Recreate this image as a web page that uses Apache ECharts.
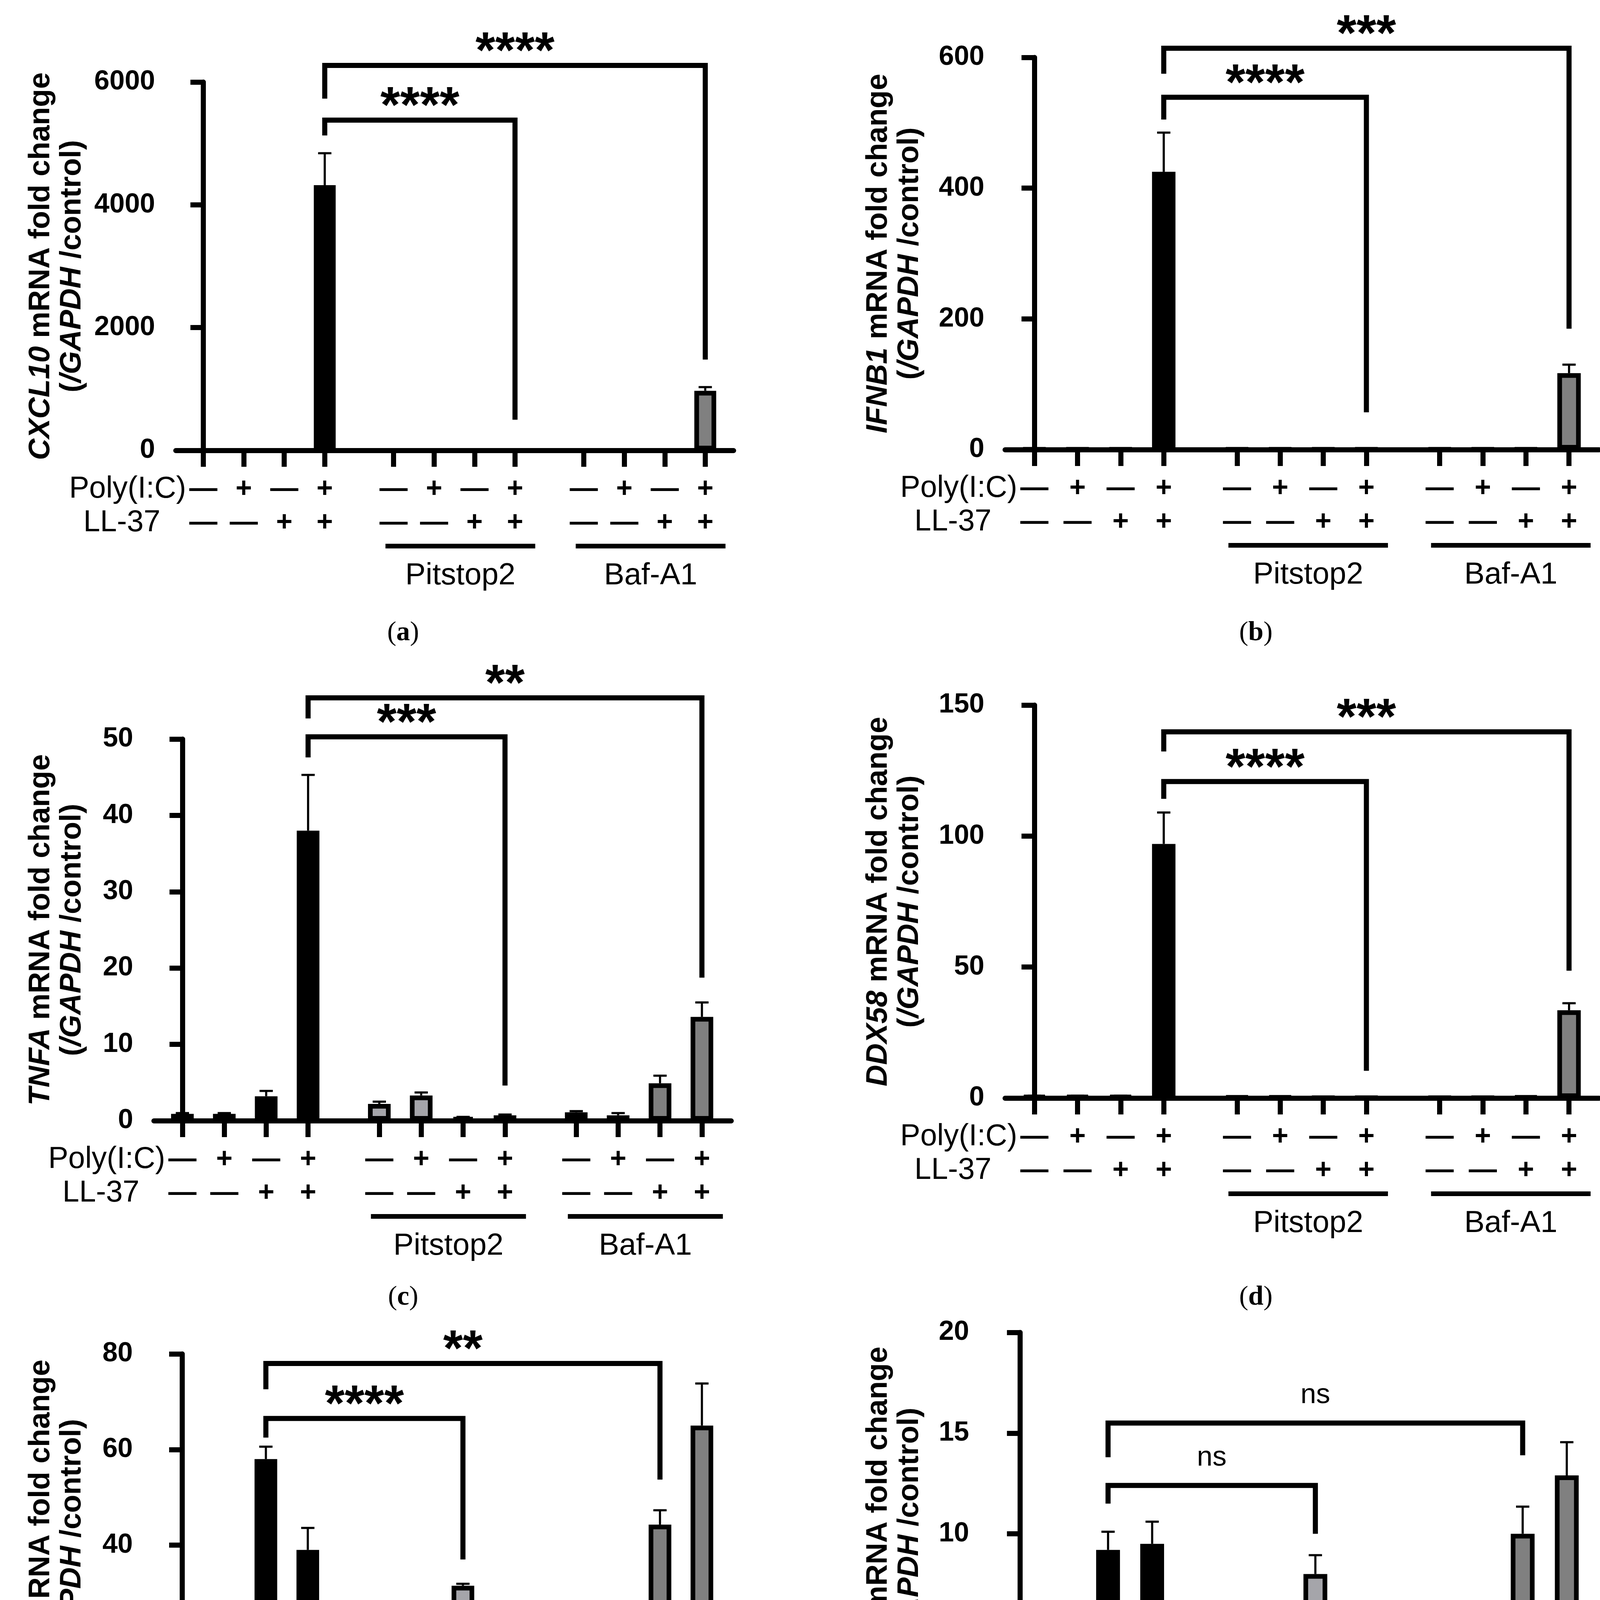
<!DOCTYPE html>
<html lang="en">
<head>
  <meta charset="UTF-8">
  <script src="https://cdn.jsdelivr.net/npm/echarts@6/dist/echarts.min.js"></script>
  <style>
    html, body { margin: 0; padding: 0; background: #fff; }
    #container { width: 4128px; height: 4958px; }
  </style>
</head>
<body>
  <div id="container"></div>
  <script>
    // treatment rows under each bar
    var polyIC = ['—', '+', '—', '+', '—', '+', '—', '+', '—', '+', '—', '+'];
    var ll37 = ['—', '—', '+', '+', '—', '—', '+', '+', '—', '—', '+', '+'];
    var groupLabels = ['Pitstop2', 'Baf-A1'];
    var panelLetters = ['a', 'b', 'c', 'd', 'e', 'f'];
    var genes = ['CXCL10', 'IFNB1', 'TNFA', 'DDX58', 'PTGS2', 'VEGFA'];

    // mean and SEM
    var cxcl10Mean = [1, 1, 1, 4320, 1, 1, 1, 1, 1, 1, 1, 970];
    var cxcl10Err = [0, 0, 0, 520, 0, 0, 0, 0, 0, 0, 0, 60];
    var ifnb1Mean = [1, 1, 1, 425, 1, 1, 1, 1, 1, 1, 1, 117];
    var ifnb1Err = [0, 0, 0, 60, 0, 0, 0, 0, 0, 0, 0, 13];
    var tnfaMean = [0.9, 0.9, 3.2, 38, 2.2, 3.3, 0.4, 0.7, 1.1, 0.7, 4.9, 13.6];
    var tnfaErr = [0.1, 0.1, 0.7, 7.3, 0.3, 0.4, 0.1, 0.1, 0.15, 0.3, 1.0, 1.9];
    var ddx58Mean = [0.8, 0.8, 0.8, 97, 0.5, 0.5, 0.2, 0.2, 0.2, 0.2, 0.5, 33.5];
    var ddx58Err = [0.1, 0.1, 0.1, 12, 0.1, 0.1, 0, 0, 0, 0, 0.1, 2.7];
    var ptgs2Mean = [0.6, 0.45, 58, 39, 2.9, 3.5, 31.5, 26.4, 1.1, 0.8, 44.3, 65];
    var ptgs2Err = [0.1, 0.1, 2.6, 4.6, 0.3, 0.2, 0.4, 1.8, 0.1, 0.1, 3.0, 8.8];
    var vegfaMean = [0.92, 0.82, 9.2, 9.5, 1.48, 1.78, 8.0, 6.15, 1.29, 1.29, 10, 12.9];
    var vegfaErr = [0.05, 0.05, 0.9, 1.1, 0.12, 0.17, 0.94, 0.37, 0.11, 0.06, 1.35, 1.65];

    // y axis ticks
    var cxcl10Ticks = [0, 2000, 4000, 6000];
    var ifnb1Ticks = [0, 200, 400, 600];
    var tnfaTicks = [0, 10, 20, 30, 40, 50];
    var ddx58Ticks = [0, 50, 100, 150];
    var ptgs2Ticks = [0, 20, 40, 60, 80];
    var vegfaTicks = [0, 5, 10, 15, 20];

    // brackets: [from bar, to bar, top, left foot, right foot, label]
    var cxcl10Sig = [[3, 7, 5380, 5130, 500, '****'], [3, 11, 6270, 5730, 1480, '****']];
    var ifnb1Sig = [[3, 7, 539, 505, 57, '****'], [3, 11, 614, 575, 185, '***']];
    var tnfaSig = [[3, 7, 50.3, 47.6, 4.6, '***'], [3, 11, 55.4, 52.7, 18.75, '**']];
    var ddx58Sig = [[3, 7, 120.8, 114.2, 10.4, '****'], [3, 11, 139.8, 132.3, 48.6, '***']];
    var ptgs2Sig = [[2, 6, 66.5, 62.5, 37, '****'], [2, 10, 78, 72.6, 53.7, '**']];
    var vegfaSig = [[2, 6, 12.4, 11.5, 10.0, 'ns'], [2, 10, 15.5, 13.8, 13.9, 'ns']];

    var means = [cxcl10Mean, ifnb1Mean, tnfaMean, ddx58Mean, ptgs2Mean, vegfaMean];
    var errs = [cxcl10Err, ifnb1Err, tnfaErr, ddx58Err, ptgs2Err, vegfaErr];
    var ticks = [cxcl10Ticks, ifnb1Ticks, tnfaTicks, ddx58Ticks, ptgs2Ticks, vegfaTicks];
    var sigs = [cxcl10Sig, ifnb1Sig, tnfaSig, ddx58Sig, ptgs2Sig, vegfaSig];

    // page layout of the six panels (pixels)
    var layout = [
      { left: 450, right: 1878, top: 210, bottom: 1153, nameGap: 225, lx: 1032, ly: 1621 },
      { left: 2573, right: 4094, top: 147, bottom: 1151, nameGap: 204, lx: 3215, ly: 1621 },
      { left: 394, right: 1872, top: 1892, bottom: 2869, nameGap: 169, lx: 1032, ly: 3322 },
      { left: 2573, right: 4094, top: 1805, bottom: 2811, nameGap: 204, lx: 3215, ly: 3322 },
      { left: 393, right: 1872, top: 3466, bottom: 4445, nameGap: 168, lx: 1032, ly: 4907 },
      { left: 2534, right: 4090, top: 3411, bottom: 4442, nameGap: 165, lx: 3212, ly: 4901 }
    ];

    var FONT = '"Liberation Sans", Arial, sans-serif';
    var SERIF = '"Liberation Serif", "Times New Roman", serif';
    var fills = ['#000000', '#a5a5aa', '#808080'];
    var LW = 13;
    var GAP = 0.7, XMIN = -0.68, XMAX = 13.1;
    var pos = polyIC.map(function (_, i) { return i + GAP * Math.floor(i / 4); });

    function idxOf(v) {
      for (var i = 0; i < pos.length; i++) {
        if (Math.abs(pos[i] - v) < 1e-6) return i;
      }
      return -1;
    }

    var grids = [], xAxes = [], yAxes = [], series = [], graphics = [];

    layout.forEach(function (L, gi) {
      var w = L.right - L.left;
      var step = w / (XMAX - XMIN);
      var tk = ticks[gi];
      grids.push({ left: L.left, top: L.top, width: w, height: L.bottom - L.top, containLabel: false, outerBoundsMode: 'none' });

      xAxes.push({
        gridIndex: gi, type: 'value', min: XMIN, max: XMAX,
        splitLine: { show: false },
        axisLine: { show: true, onZero: false, lineStyle: { color: '#000', width: LW } },
        axisTick: { show: true, customValues: pos, length: 42, lineStyle: { color: '#000', width: LW } },
        axisLabel: {
          show: true, customValues: pos, margin: 57, hideOverlap: false,
          formatter: function (v) {
            var i = idxOf(v);
            if (i < 0) return '';
            return '{s|' + polyIC[i] + '}\n{s|' + ll37[i] + '}';
          },
          rich: { s: { fontFamily: FONT, fontSize: 72, fontWeight: 'bold', lineHeight: 86, color: '#000' } }
        }
      });

      yAxes.push({
        gridIndex: gi, type: 'value', min: tk[0], max: tk[tk.length - 1], interval: tk[1] - tk[0],
        splitLine: { show: false },
        axisLine: { show: true, lineStyle: { color: '#000', width: LW } },
        axisTick: { show: true, length: 33, lineStyle: { color: '#000', width: LW } },
        axisLabel: {
          margin: 53, fontFamily: FONT, fontSize: 70, fontWeight: 'bold', color: '#000',
          formatter: function (v) { return String(v); }
        },
        name: '{i|' + genes[gi] + '} mRNA fold change\n({i|/GAPDH} /control)',
        nameLocation: 'middle', nameRotate: 90, nameGap: L.nameGap, nameMoveOverlap: false,
        nameTextStyle: {
          fontFamily: FONT, fontSize: 76, fontWeight: 'bold', color: '#000', lineHeight: 80,
          rich: { i: { fontFamily: FONT, fontSize: 76, fontWeight: 'bold', fontStyle: 'italic', color: '#000', lineHeight: 80 } }
        }
      });

      // bars
      series.push({
        type: 'bar', xAxisIndex: gi, yAxisIndex: gi, silent: true,
        barWidth: Math.round(step * 0.54),
        itemStyle: { borderColor: '#000', borderWidth: 12 },
        data: means[gi].map(function (v, i) {
          return { value: [pos[i], v], itemStyle: { color: fills[Math.floor(i / 4)] } };
        })
      });

      // error bars (upper half)
      series.push({
        type: 'custom', xAxisIndex: gi, yAxisIndex: gi, silent: true, z: 3,
        data: means[gi].map(function (v, i) { return [pos[i], v, errs[gi][i]]; }),
        encode: { x: 0, y: 1 },
        renderItem: function (params, api) {
          var e = api.value(2);
          if (!e) return null;
          var p0 = api.coord([api.value(0), api.value(1)]);
          var p1 = api.coord([api.value(0), api.value(1) + e]);
          var st = { stroke: '#000', lineWidth: 5.5 };
          return {
            type: 'group', children: [
              { type: 'line', shape: { x1: p0[0], y1: p0[1], x2: p1[0], y2: p1[1] }, style: st },
              { type: 'line', shape: { x1: p1[0] - 17, y1: p1[1], x2: p1[0] + 17, y2: p1[1] }, style: st }
            ]
          };
        }
      });

      // significance brackets
      var sg = sigs[gi];
      series.push({
        type: 'custom', xAxisIndex: gi, yAxisIndex: gi, silent: true, z: 4,
        data: sg.map(function (s) { return [pos[s[0]], pos[s[1]], s[2], s[3], s[4]]; }),
        encode: { x: [0, 1], y: [2, 3, 4] },
        renderItem: function (params, api) {
          var a = api.coord([api.value(0), api.value(2)]);
          var b = api.coord([api.value(1), api.value(2)]);
          var lf = api.coord([api.value(0), api.value(3)]);
          var rf = api.coord([api.value(1), api.value(4)]);
          var txt = sg[params.dataIndex][5];
          var isNs = txt === 'ns';
          return {
            type: 'group', children: [
              {
                type: 'polyline', shape: { points: [lf, a, b, rf] },
                style: { stroke: '#000', lineWidth: LW, fill: null, lineJoin: 'miter' }
              },
              {
                type: 'text', x: (a[0] + b[0]) / 2, y: isNs ? a[1] - 71 : a[1] - 30,
                style: {
                  text: txt, fill: '#000', align: 'center', verticalAlign: 'middle',
                  fontFamily: FONT, fontSize: isNs ? 72 : 130, fontWeight: isNs ? 'normal' : 'bold'
                }
              }
            ]
          };
        }
      });

      // group underlines with inhibitor names
      series.push({
        type: 'custom', xAxisIndex: gi, yAxisIndex: gi, silent: true, z: 4,
        data: [[pos[4], pos[7]], [pos[8], pos[11]]],
        encode: { x: [0, 1] },
        renderItem: function (params, api) {
          var l = api.coord([api.value(0) - 0.2, 0]);
          var r = api.coord([api.value(1) + 0.5, 0]);
          var y = l[1] + 245;
          return {
            type: 'group', children: [
              { type: 'line', shape: { x1: l[0], y1: y, x2: r[0], y2: y }, style: { stroke: '#000', lineWidth: 12 } },
              {
                type: 'text', x: (l[0] + r[0]) / 2, y: y + 76,
                style: { text: groupLabels[params.dataIndex], fill: '#000', align: 'center', verticalAlign: 'middle', fontFamily: FONT, fontSize: 78 }
              }
            ]
          };
        }
      });

      // row titles left of the first column
      series.push({
        type: 'custom', xAxisIndex: gi, yAxisIndex: gi, silent: true, z: 4,
        data: [[pos[0], 0]],
        encode: { x: 0, y: 1 },
        renderItem: function (params, api) {
          var p = api.coord([api.value(0), 0]);
          return {
            type: 'group', children: [
              { type: 'text', x: p[0] - 44, y: p[1] + 100, style: { text: 'Poly(I:C)', fill: '#000', align: 'right', verticalAlign: 'middle', fontFamily: FONT, fontSize: 77 } },
              { type: 'text', x: p[0] - 110, y: p[1] + 186, style: { text: 'LL-37', fill: '#000', align: 'right', verticalAlign: 'middle', fontFamily: FONT, fontSize: 77 } }
            ]
          };
        }
      });

      graphics.push({
        type: 'text', x: L.lx, y: L.ly,
        style: {
          text: '({b|' + panelLetters[gi] + '})', fill: '#000', align: 'center', verticalAlign: 'middle',
          fontFamily: SERIF, fontSize: 70,
          rich: { b: { fontFamily: SERIF, fontSize: 70, fontWeight: 'bold' } }
        }
      });
    });

    var chart = echarts.init(document.getElementById('container'));
    chart.setOption({
      backgroundColor: '#ffffff',
      animation: false,
      grid: grids,
      xAxis: xAxes,
      yAxis: yAxes,
      series: series,
      graphic: graphics
    });
  </script>
</body>
</html>
